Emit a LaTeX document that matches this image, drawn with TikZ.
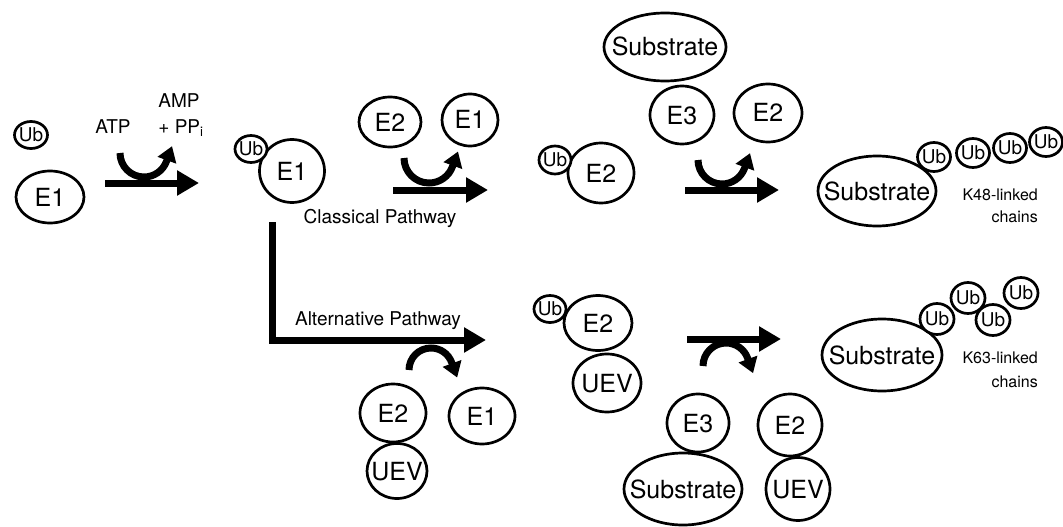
\documentclass[tikz,border=0pt]{standalone}
\usepackage{fontspec}
\setmainfont{TeX Gyre Heros}
\usetikzlibrary{shapes.geometric,arrows.meta}
\newcommand{\inn}[1]{\raisebox{-0.36em}[0pt][0pt]{\makebox[0pt]{#1}}}
\begin{document}
\begin{tikzpicture}[x=1pt,y=-1pt,
  prot/.style={ellipse, draw, line width=2.7pt, inner sep=0pt, fill=white, font=\fontsize{25}{30}\selectfont},
  ubs/.style={ellipse, draw, line width=2.7pt, inner sep=0pt, fill=white, font=\fontsize{19}{22}\selectfont, minimum width=33pt, minimum height=29pt},
  lbl/.style={font=\fontsize{19}{22}\selectfont, anchor=base, inner sep=0pt},
  small/.style={font=\fontsize{16}{20}\selectfont, anchor=base east, inner sep=0pt},
  fat/.style={line width=7pt, -{Triangle[length=22pt,width=24pt]}},
  curvy/.style={line width=7pt, -{Triangle[length=15pt,width=19pt]}}]
\useasboundingbox (0,0) rectangle (1063,527);

% ---- step 1
\node[ubs, minimum width=33pt, minimum height=27pt] (ub0) at (31,135) {\inn{Ub}};
\node[prot, minimum width=68pt, minimum height=52pt] (e1a) at (50,197) {\inn{E1}};
\node[lbl] (atp) at (113,133) {ATP};
\node[lbl] (amp) at (179,107) {AMP};
\node[lbl] (ppi) at (181,133) {+ PP\textsubscript{i}};
\coordinate (a1s) at (105,183);
\coordinate (a1e) at (199,183);
\draw[fat] (a1s) -- (a1e);
\coordinate (c1s) at (120,153);
\draw[curvy] (c1s) arc[start angle=180,end angle=340,radius=24pt] -- ++(70:16pt);

% ---- Ub-E1
\node[prot, minimum width=65pt, minimum height=63pt] (e1b) at (292,171) {\inn{E1}};
\node[ubs, minimum width=32pt, minimum height=27pt] (ub1) at (251,149) {\inn{Ub}};

% ---- classical step 2
\node[prot, minimum width=62pt, minimum height=50pt] (e2a) at (390,122) {\inn{E2}};
\node[prot, minimum width=56pt, minimum height=52pt] (e1c) at (470,120) {\inn{E1}};
\coordinate (a2s) at (393,190);
\coordinate (a2e) at (488,190);
\draw[fat] (a2s) -- (a2e);
\coordinate (c2s) at (404,158);
\draw[curvy] (c2s) arc[start angle=180,end angle=340,radius=25pt] -- ++(70:16pt);
\node[lbl] (classical) at (380,223) {Classical Pathway};

% ---- Ub-E2
\node[prot, minimum width=66pt, minimum height=60pt] (e2b) at (601,173) {\inn{E2}};
\node[ubs, minimum width=32pt, minimum height=28pt] (ub2) at (555,160) {\inn{Ub}};

% ---- classical step 3
\node[prot, minimum width=122pt, minimum height=68pt] (sub1) at (665,47) {\inn{Substrate}};
\node[prot, minimum width=64pt, minimum height=58pt] (e3a) at (682,115) {\inn{E3}};
\node[prot, minimum width=68pt, minimum height=58pt] (e2c) at (768,113) {\inn{E2}};
\coordinate (a3s) at (685,190);
\coordinate (a3e) at (779,190);
\draw[fat] (a3s) -- (a3e);
\coordinate (c3s) at (698,160);
\draw[curvy] (c3s) arc[start angle=180,end angle=340,radius=24pt] -- ++(70:16pt);

% ---- K48 product
\node[prot, minimum width=118pt, minimum height=70pt] (sub2) at (877,191) {\inn{Substrate}};
\node[ubs] (k48a) at (934,157) {\inn{Ub}};
\node[ubs] (k48b) at (973,153) {\inn{Ub}};
\node[ubs] (k48c) at (1010,148) {\inn{Ub}};
\node[ubs] (k48d) at (1046,142) {\inn{Ub}};
\node[small] (k48t) at (1038,200) {K48-linked};
\node[small] (k48u) at (1038,222) {chains};

% ---- alternative pathway
\coordinate (alts) at (272,222);
\coordinate (altc) at (272,340);
\coordinate (alte) at (486,340);
\draw[fat] (alts) -- (altc) -- (alte);
\node[lbl] (alternative) at (378,325) {Alternative Pathway};
\coordinate (c4s) at (409,370);
\draw[curvy] (c4s) arc[start angle=180,end angle=20,radius=22pt] -- ++(-70:16pt);
\node[prot, minimum width=66pt, minimum height=58pt] (e2d) at (393,413) {\inn{E2}};
\node[prot, minimum width=60pt, minimum height=55pt] (uev1) at (397,471) {\inn{UEV}};
\node[prot, minimum width=66pt, minimum height=56pt] (e1d) at (482,416) {\inn{E1}};

% ---- Ub-E2-UEV
\node[prot, minimum width=68pt, minimum height=58pt] (uev2) at (607,383) {\inn{UEV}};
\node[prot, minimum width=68pt, minimum height=55pt] (e2e) at (598,323) {\inn{E2}};
\node[ubs, minimum width=32pt, minimum height=27pt] (ub3) at (550,309) {\inn{Ub}};

% ---- alternative step 2
\coordinate (a5s) at (687,339);
\coordinate (a5e) at (781,339);
\draw[fat] (a5s) -- (a5e);
\coordinate (c5s) at (703,366);
\draw[curvy] (c5s) arc[start angle=180,end angle=20,radius=23pt] -- ++(-70:16pt);
\node[prot, minimum width=118pt, minimum height=72pt] (sub3) at (683,489) {\inn{Substrate}};
\node[prot, minimum width=62pt, minimum height=58pt] (e3b) at (698,423) {\inn{E3}};
\node[prot, minimum width=64pt, minimum height=62pt] (e2f) at (790,425) {\inn{E2}};
\node[prot, minimum width=64pt, minimum height=63pt] (uev3) at (798,489) {\inn{UEV}};

% ---- K63 product
\node[prot, minimum width=120pt, minimum height=72pt] (sub4) at (882,355) {\inn{Substrate}};
\node[ubs, minimum width=34pt, minimum height=31pt] (k63b) at (968,298) {\inn{Ub}};
\node[ubs, minimum width=34pt, minimum height=31pt] (k63d) at (1021,293) {\inn{Ub}};
\node[ubs, minimum width=34pt, minimum height=31pt] (k63a) at (937,319) {\inn{Ub}};
\node[ubs, minimum width=34pt, minimum height=31pt] (k63c) at (993,320) {\inn{Ub}};
\node[small] (k63t) at (1038,363) {K63-linked};
\node[small] (k63u) at (1038,387) {chains};
\end{tikzpicture}
\end{document}
